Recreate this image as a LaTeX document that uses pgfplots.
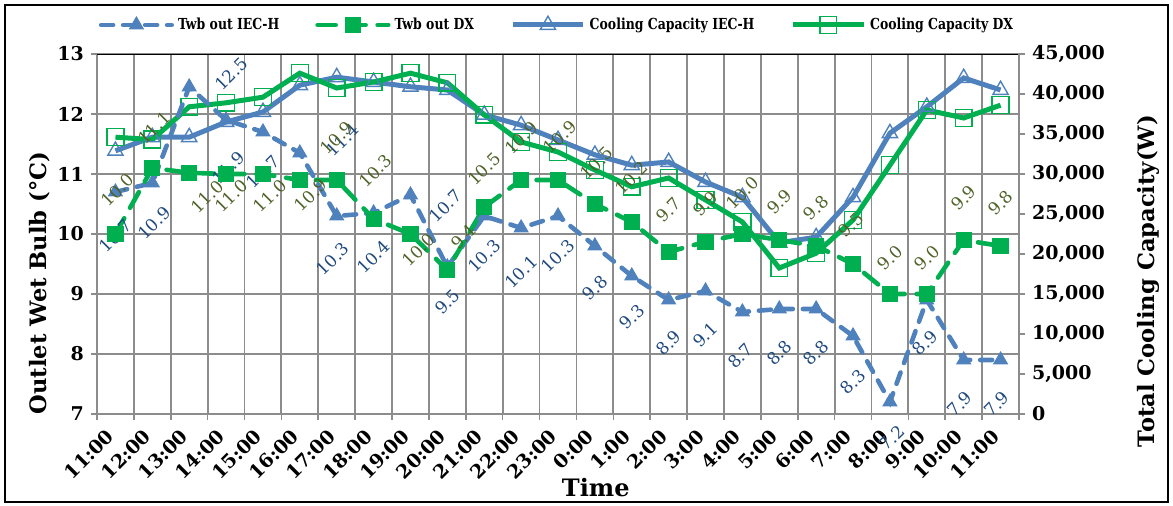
\documentclass[border=0pt]{standalone}
\usepackage{pgfplots}
\pgfplotsset{compat=1.18}
\usepackage{pgfplotstable}
\usepackage{fontspec}
\setmainfont{DejaVu Serif}
\newfontfamily\condfont[FakeStretch=0.82]{DejaVu Serif}

\definecolor{ieblue}{HTML}{4F81BD}
\definecolor{dxgreen}{HTML}{00B050}
\definecolor{lblblue}{HTML}{1F497D}
\definecolor{lblgreen}{HTML}{4F6228}
\definecolor{gridgray}{HTML}{8C8C8C}

% Twb out IEC-H (left axis), label offsets in pt
\pgfplotstableread{
x y lbl dx dy
0 10.7 10.7 0 -22
1 10.85 10.9 1 -20
2 12.45 12.5 21 6.5
3 11.9 11.9 1 -24
4 11.7 11.7 0 -20
5 11.35 11.4 21.5 6.5
6 10.3 10.3 -2 -21.5
7 10.35 10.4 0 -22
8 10.65 10.7 17.5 -5.5
9 9.45 9.5 0 -17.5
10 10.3 10.3 0 -20
11 10.1 10.1 0 -22
12 10.3 10.3 0 -20
13 9.8 9.8 0 -21
14 9.3 9.3 0 -20.5
15 8.9 8.9 0 -21.5
16 9.05 9.1 0 -22
17 8.7 8.7 -1 -22
18 8.75 8.8 0 -22
19 8.75 8.8 0 -22
20 8.3 8.3 0 -23
21 7.2 7.2 1 -18
22 8.9 8.9 -1 -21.5
23 7.9 7.9 -2 -22
24 7.9 7.9 -2 -22
}\twbiec

% Twb out DX (left axis)
\pgfplotstableread{
x y lbl dx dy
0 10.0 10.0 1 22
1 11.1 11.1 1 20
2 11.02 11.0 9 -12
3 11.0 11.0 2.5 -11
4 11.0 11.0 3.5 -11
5 10.9 10.9 5.5 -7.5
6 10.9 10.9 0 21
7 10.25 10.3 1 24
8 10.0 10.0 4 -8
9 9.4 9.4 8 16.5
10 10.45 10.5 0 19
11 10.9 10.9 0 21
12 10.9 10.9 1 21.5
13 10.5 10.5 1 20.5
14 10.2 10.2 0 22
15 9.7 9.7 0 21
16 9.87 9.9 0 19
17 10.0 10.0 0 20.5
18 9.9 9.9 0 19
19 9.8 9.8 0 19
20 9.5 9.5 -1 19.5
21 9.0 9.0 0 18
22 9.0 9.0 0 18
23 9.9 9.9 0 21
24 9.8 9.8 0 21.5
}\twbdx

% Total cooling capacity (right axis)
\pgfplotstableread{
x iec dx
0 32900 34600
1 34600 34300
2 34600 38400
3 36500 38900
4 37750 39600
5 41100 42600
6 42100 40750
7 41500 41500
8 40900 42600
9 40500 41400
10 37400 37400
11 36100 34000
12 34250 32750
13 32400 30500
14 31100 28400
15 31500 29500
16 29000 26750
17 27100 24000
18 21400 18250
19 22100 20100
20 27100 24250
21 35100 31100
22 38400 38000
23 42000 37000
24 40500 38600
}\cooling

\pgfplotsset{
  base/.style={
    width=461pt, height=180pt, scale only axis,
    at={(0,0)}, anchor=south west,
    xmin=-0.5, xmax=24.5,
  },
  ticks bold/.style={
    ticklabel style={font=\fontsize{9.5}{11}\selectfont\bfseries},
    /pgf/number format/assume math mode=true,
  },
  legend image code/.code={\draw[mark repeat=2,mark phase=2,#1]
    plot coordinates {(0cm,0cm) (0.62cm,0cm) (1.24cm,0cm)};},
}

\begin{document}
\begin{tikzpicture}
\useasboundingbox (-48.5pt,-46pt) rectangle (538pt,207pt);
\draw[black, line width=1pt] (-46pt,-44pt) rectangle (535.5pt,204.5pt);

% grid and left axis
\begin{axis}[
  base, ticks bold,
  ymin=7, ymax=13, ytick={7,...,13},
  xtick={0,...,24},
  xticklabels={11:00,12:00,13:00,14:00,15:00,16:00,17:00,18:00,19:00,20:00,21:00,22:00,23:00,0:00,1:00,2:00,3:00,4:00,5:00,6:00,7:00,8:00,9:00,10:00,11:00},
  every major x tick/.append style={draw=none},
  minor xtick={-0.5,0.5,...,24.5},
  xminorgrids=true, ymajorgrids=true,
  grid style={gridgray, line width=0.9pt},
  minor grid style={gridgray, line width=0.9pt},
  tick pos=left, tick align=outside,
  major tick length=3pt, minor tick length=3pt,
  tick style={gridgray, line width=0.8pt},
  axis line style={gridgray, line width=1pt},
  xticklabel style={rotate=45, anchor=east},
  xticklabel shift=4pt,
  xlabel={Time},
  xlabel style={at={(axis description cs:0.541,-0.203)}, anchor=center,
    font=\fontsize{12}{14}\selectfont\bfseries},
  ylabel={Outlet Wet Bulb (°C)},
  ylabel style={at={(axis description cs:-0.062,0.364)}, anchor=center,
    font=\fontsize{11.3}{13}\selectfont\bfseries},
]
\draw[black, line width=1pt] (rel axis cs:0,1) -- (rel axis cs:1,1);
\end{axis}

% right axis: cooling capacity
\begin{axis}[
  base, ticks bold,
  ymin=0, ymax=45000, ytick={0,5000,...,45000},
  axis y line*=right, axis x line=none,
  scaled y ticks=false,
  yticklabel style={/pgf/number format/.cd, 1000 sep={,}, assume math mode=true},
  tick align=outside, major tick length=3pt,
  tick style={gridgray, line width=0.8pt},
  axis line style={gridgray, line width=1pt},
  ylabel={Total Cooling Capacity(W)},
  ylabel style={at={(axis description cs:1.14,0.369)}, anchor=center,
    font=\fontsize{11.3}{13}\selectfont\bfseries},
]
\addplot[ieblue, line width=2.5pt, mark=triangle, mark size=4.4pt,
  mark options={solid, line width=0.7pt, fill=none}]
  table[x=x, y=iec] {\cooling};
\addplot[dxgreen, line width=2.5pt, mark=square, mark size=4.2pt,
  mark options={solid, line width=0.7pt, fill=none}]
  table[x=x, y=dx] {\cooling};
\end{axis}

% wet bulb series with labels and legend
\begin{axis}[
  base, hide axis, clip=false,
  ymin=7, ymax=13,
  legend columns=4,
  legend style={at={(0.5,1.0806)}, anchor=center, draw=none, fill=none,
    font=\condfont\fontsize{7.6}{9}\selectfont\bfseries,
    /tikz/every even column/.append style={column sep=16pt}},
  legend entries={Twb out IEC-H, Twb out DX, Cooling Capacity IEC-H, Cooling Capacity DX},
  visualization depends on={\thisrow{dx} \as \dx},
  visualization depends on={\thisrow{dy} \as \dy},
]
\addplot[ieblue, line width=2.3pt, line cap=round, dash pattern=on 6pt off 5pt,
  mark=triangle*, mark size=4pt,
  mark options={solid, fill=ieblue, line width=0.5pt},
  nodes near coords, point meta=explicit symbolic,
  nodes near coords style={xshift=\dx pt, yshift=\dy pt, rotate=45, anchor=center,
    inner sep=0pt, text=lblblue, font=\fontsize{8.5}{10}\selectfont}]
  table[x=x, y=y, meta=lbl] {\twbiec};
\addplot[dxgreen, line width=2.3pt, line cap=round, dash pattern=on 9pt off 6pt,
  mark=square*, mark size=3.8pt,
  mark options={solid, fill=dxgreen, line width=0.5pt},
  nodes near coords, point meta=explicit symbolic,
  nodes near coords style={xshift=\dx pt, yshift=\dy pt, rotate=45, anchor=center,
    inner sep=0pt, text=lblgreen, font=\fontsize{8.5}{10}\selectfont}]
  table[x=x, y=y, meta=lbl] {\twbdx};
\addlegendimage{ieblue, line width=2.5pt, mark=triangle, mark size=4.4pt,
  mark options={solid, line width=0.7pt, fill=none}}
\addlegendimage{dxgreen, line width=2.5pt, mark=square, mark size=4.2pt,
  mark options={solid, line width=0.7pt, fill=none}}
\end{axis}
\end{tikzpicture}
\end{document}
